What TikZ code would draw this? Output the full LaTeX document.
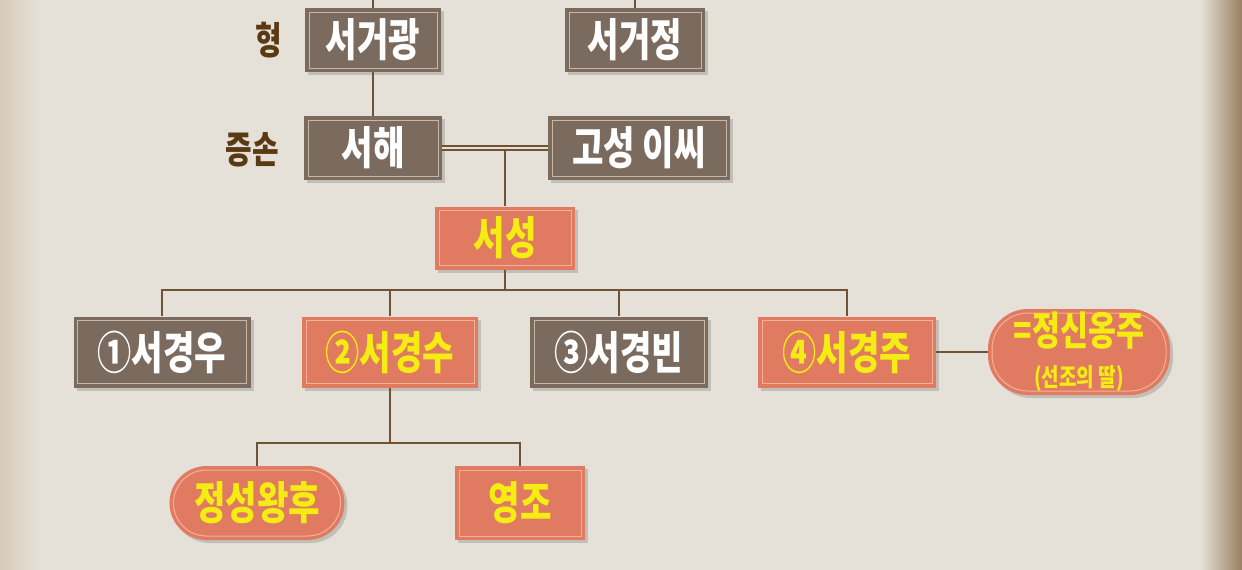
\documentclass[tikz,border=0pt]{standalone}
\usepackage{fontspec}
\newfontfamily\kr{Noto Sans CJK KR}[FakeStretch=0.76]
\usetikzlibrary{shadows}
\definecolor{paper}{HTML}{E6E1D8}
\definecolor{paperedge}{HTML}{D6CBB8}
\definecolor{edgebrown}{HTML}{9A8060}
\definecolor{brownbox}{HTML}{7B6B5F}
\definecolor{brownin}{HTML}{C8B7A5}
\definecolor{salmon}{HTML}{E07A60}
\definecolor{salmonin}{HTML}{F4B29A}
\definecolor{kyellow}{HTML}{F4EC12}
\definecolor{lbl}{HTML}{5A3A12}
\definecolor{conn}{HTML}{6E5434}
\begin{document}
\begin{tikzpicture}[x=1pt,y=-1pt,
  base/.style={rectangle, inner sep=0pt,
    drop shadow={opacity=0.35, shadow xshift=3pt, shadow yshift=-3pt},
    font=\kr\bfseries\fontsize{45}{46}\selectfont},
  inset/.style={path picture={\draw[#1, line width=1pt]
    ([shift={(4pt,4pt)}]path picture bounding box.south west) rectangle
    ([shift={(-4pt,-4pt)}]path picture bounding box.north east);}},
  pinset/.style 2 args={path picture={\draw[#1, line width=1pt, rounded corners=#2]
    ([shift={(4pt,4pt)}]path picture bounding box.south west) rectangle
    ([shift={(-4pt,-4pt)}]path picture bounding box.north east);}},
  bbox/.style={base, fill=brownbox, text=white, inset=brownin},
  sbox/.style={base, fill=salmon, text=kyellow, inset=salmonin},
  spill/.style={base, fill=salmon, text=kyellow, rounded corners=#1, pinset={salmonin}{#1-4pt}},
  lab/.style={text=lbl, font=\kr\bfseries\fontsize{38}{40}\selectfont},
  link/.style={draw=conn, line width=1.8pt}
]
\useasboundingbox (0,0) rectangle (1242,570);
\fill[paper] (0,0) rectangle (1242,570);
\shade[left color=paperedge, right color=paper] (0,0) rectangle (40,570);
\shade[left color=paper, right color=edgebrown] (1200,0) rectangle (1242,570);

% nodes
\node[bbox, minimum width=136pt, minimum height=64pt] (gwang) at (373,40) {서거광};
\node[bbox, minimum width=140pt, minimum height=64pt] (jeong) at (635,40) {서거정};
\node[bbox, minimum width=138pt, minimum height=64pt] (hae) at (373,148) {서해};
\node[bbox, minimum width=182pt, minimum height=64pt] (lee) at (639,148) {고성 이씨};
\node[sbox, minimum width=140pt, minimum height=63pt] (seong) at (505,238) {서성};
\node[bbox, minimum width=177pt, minimum height=71pt] (c1) at (162,352) {①서경우};
\node[sbox, minimum width=176pt, minimum height=71pt] (c2) at (390,352) {②서경수};
\node[bbox, minimum width=178pt, minimum height=71pt] (c3) at (619,352) {③서경빈};
\node[sbox, minimum width=178pt, minimum height=71pt] (c4) at (847,352) {④서경주};
\node[spill=40pt, minimum width=182pt, minimum height=86pt, align=center] (wife) at (1079,352)
  {{\fontsize{40}{38}\selectfont =정신옹주}\\[-5pt]{\fontsize{25}{24}\selectfont (선조의 딸)}};
\node[spill=37pt, minimum width=175pt, minimum height=74pt] (queen) at (257,503) {정성왕후};
\node[sbox, minimum width=130pt, minimum height=74pt] (yeongjo) at (520,503) {영조};

\node[lab] (lhyeong) at (269,40) {형};
\node[lab] (ljeungson) at (252,150) {증손};

% connectors
\coordinate (gtop) at (373,0);
\coordinate (jtop) at (635,0);
\draw[link] (gwang.north) -- (gtop);
\draw[link] (jeong.north) -- (jtop);
\draw[link] (gwang.south) -- (hae.north);
\draw[draw=conn, line width=1.4pt, double=paper, double distance=2.5pt] (hae.east) -- (lee.west);
\coordinate (mar) at (505,151);
\draw[link] (mar) -- (seong.north);
\coordinate (bus) at (505,290);
\draw[link] (seong.south) -- (bus);
\draw[link] (c1.north) |- (bus) -| (c4.north);
\draw[link] (c2.north) -- (c2.north |- bus);
\draw[link] (c3.north) -- (c3.north |- bus);
\draw[link] (c4.east) -- (wife.west);
\coordinate (bus2) at (390,443);
\draw[link] (c2.south) -- (bus2);
\draw[link] (queen.north) |- (bus2) -| (yeongjo.north);
\end{tikzpicture}
\end{document}
